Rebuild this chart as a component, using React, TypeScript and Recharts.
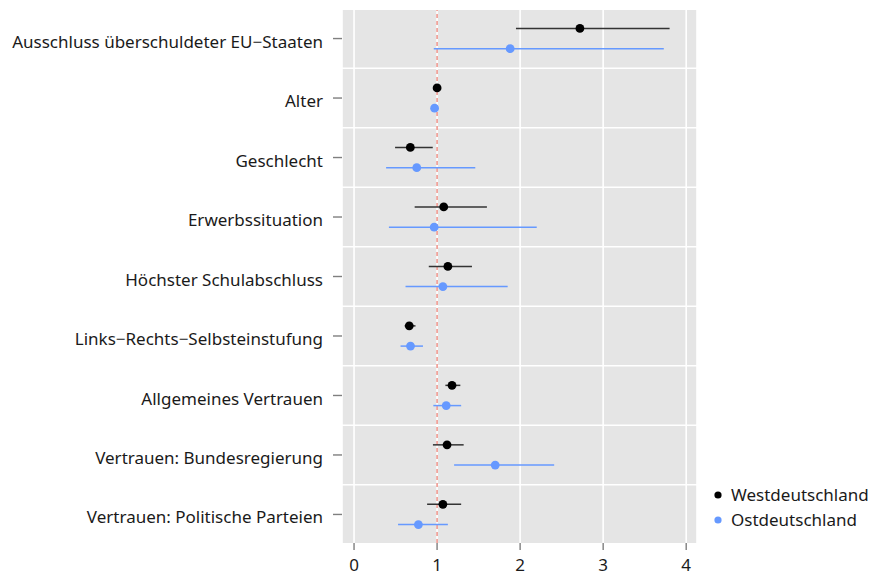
import { ScatterChart, Scatter, XAxis, YAxis, CartesianGrid, ReferenceLine, ErrorBar } from "recharts"

const categories = [
  "Ausschluss überschuldeter EU−Staaten",
  "Alter",
  "Geschlecht",
  "Erwerbssituation",
  "Höchster Schulabschluss",
  "Links−Rechts−Selbsteinstufung",
  "Allgemeines Vertrauen",
  "Vertrauen: Bundesregierung",
  "Vertrauen: Politische Parteien",
]

// odds ratios with confidence bounds
const westEst = [2.72, 1.0, 0.678, 1.08, 1.13, 0.665, 1.18, 1.12, 1.07]
const westLow = [1.95, 0.99, 0.494, 0.73, 0.9, 0.61, 1.1, 0.95, 0.88]
const westHigh = [3.8, 1.01, 0.948, 1.6, 1.42, 0.74, 1.28, 1.32, 1.29]

const eastEst = [1.88, 0.97, 0.755, 0.965, 1.07, 0.68, 1.11, 1.7, 0.775]
const eastLow = [0.96, 0.96, 0.386, 0.42, 0.62, 0.56, 0.955, 1.205, 0.53]
const eastHigh = [3.73, 0.98, 1.46, 2.2, 1.85, 0.83, 1.29, 2.41, 1.13]

const xTicks = [0, 1, 2, 3, 4]

const DODGE = 0.17
const FONT = "'Noto Sans', sans-serif"
const WEST = "#000000"
const EAST = "#6699ff"

const buildSeries = (est: number[], low: number[], high: number[], offset: number) =>
  categories.map((name, i) => ({
    name,
    x: est[i],
    y: i + 1 + offset,
    err: [est[i] - low[i], high[i] - est[i]],
  }))

const westData = buildSeries(westEst, westLow, westHigh, -DODGE)
const eastData = buildSeries(eastEst, eastLow, eastHigh, DODGE)

const yTicks = categories.map((_, i) => i + 1)
const rowBreaks = categories.slice(1).map((_, i) => i + 1.5)

const dot = (color: string) => (props: any) => <circle cx={props.cx} cy={props.cy} r={4.4} fill={color} />

function LegendBox() {
  const items = [
    { label: "Westdeutschland", color: WEST },
    { label: "Ostdeutschland", color: EAST },
  ]
  return (
    <div style={{ position: "absolute", left: 711, top: 482, fontFamily: FONT, fontSize: 17, color: "#1a1a1a" }}>
      {items.map((it) => (
        <div key={it.label} style={{ display: "flex", alignItems: "center", height: 25 }}>
          <svg width={14} height={10}>
            <circle cx={7} cy={5} r={3.6} fill={it.color} />
          </svg>
          <span style={{ marginLeft: 6 }}>{it.label}</span>
        </div>
      ))}
    </div>
  )
}

export default function App() {
  return (
    <div style={{ position: "absolute", left: 0, top: 0, width: 884, height: 576, background: "#fff" }}>
      <ScatterChart width={884} height={576} margin={{ top: 10, right: 187, bottom: 2, left: 0 }}>
        <CartesianGrid fill="#e5e5e5" stroke="#ffffff" strokeWidth={1.6} horizontal={false} />
        {rowBreaks.map((b) => (
          <ReferenceLine key={b} y={b} stroke="#ffffff" strokeWidth={1.6} />
        ))}
        <XAxis
          type="number"
          dataKey="x"
          domain={[-0.145, 4.13]}
          allowDataOverflow
          ticks={xTicks}
          axisLine={false}
          tickSize={7}
          tickLine={{ stroke: "#7f7f7f", strokeWidth: 1.4 }}
          tickMargin={9}
          height={31}
          tick={{ fontSize: 17, fill: "#1a1a1a", fontFamily: FONT }}
        />
        <YAxis
          type="number"
          dataKey="y"
          domain={[0.52, 9.48]}
          allowDataOverflow
          reversed
          ticks={yTicks}
          interval={0}
          tickFormatter={(v: number) => categories[v - 1] ?? ""}
          axisLine={false}
          tickSize={9}
          tickLine={{ stroke: "#7f7f7f", strokeWidth: 1.4 }}
          tickMargin={10}
          width={342}
          tick={{ fontSize: 17, fill: "#1a1a1a", fontFamily: FONT, dy: 3 }}
        />
        <ReferenceLine x={1} stroke="#ee8a80" strokeWidth={1.4} strokeDasharray="4 3" />
        <Scatter name="Westdeutschland" data={westData} shape={dot(WEST)} isAnimationActive={false}>
          <ErrorBar dataKey="err" direction="x" width={0} stroke="#333333" strokeWidth={1.5} isAnimationActive={false} />
        </Scatter>
        <Scatter name="Ostdeutschland" data={eastData} shape={dot(EAST)} isAnimationActive={false}>
          <ErrorBar dataKey="err" direction="x" width={0} stroke={EAST} strokeWidth={1.5} isAnimationActive={false} />
        </Scatter>
      </ScatterChart>
      <LegendBox />
    </div>
  )
}
